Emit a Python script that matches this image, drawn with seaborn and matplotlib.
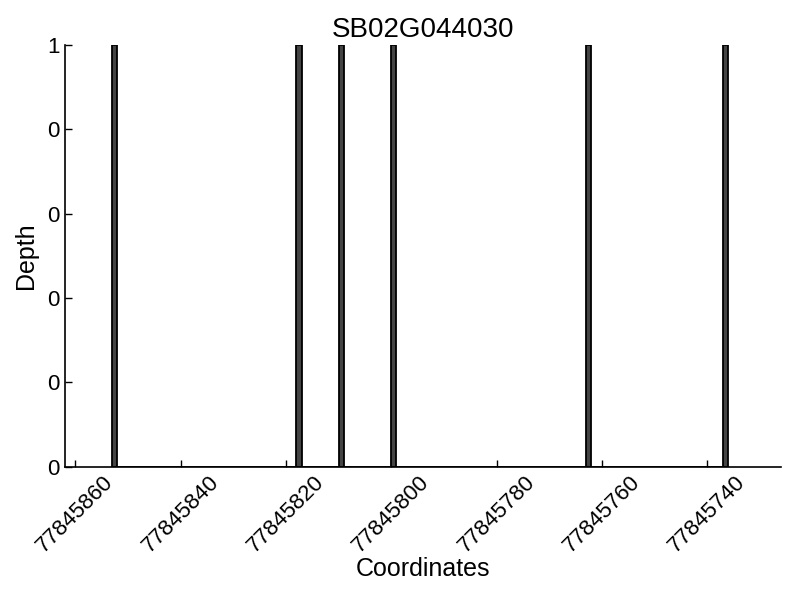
import numpy as np
import pandas as pd
import matplotlib
matplotlib.use("Agg")
import matplotlib.pyplot as plt
import seaborn as sns
from matplotlib.ticker import FormatStrFormatter

# coverage data for the gene
gene = "SB02G044030"
positions = [77845852, 77845817, 77845809, 77845799, 77845762, 77845736]
depth = [1, 1, 1, 1, 1, 1]
x_start = 77845862
x_end = 77845726

df = pd.DataFrame({"pos": positions, "depth": depth})

sns.set_style("ticks", {"xtick.direction": "in", "ytick.direction": "in",
                        "text.color": "black", "axes.labelcolor": "black",
                        "xtick.color": "black", "ytick.color": "black"})
plt.rcParams["font.family"] = ["Liberation Sans", "DejaVu Sans"]

fig, ax = plt.subplots(figsize=(8, 6), dpi=100)
sns.histplot(data=df, x="pos", weights="depth", binwidth=1,
             binrange=(df["pos"].min(), df["pos"].max() + 1), ax=ax,
             color="#444444", edgecolor="black", linewidth=1.3, alpha=1)

ax.set_xlim(x_start, x_end)
ax.set_ylim(0, 1)
ax.set_yticks(np.arange(0, 1.01, 0.2))
ax.yaxis.set_major_formatter(FormatStrFormatter("%d"))
ax.set_xticks(np.arange(77845860, 77845739, -20))
ax.xaxis.set_major_formatter(FormatStrFormatter("%d"))
plt.xticks(rotation=45)
ax.tick_params(labelsize=16, length=5, width=1, colors="black")

ax.set_title(gene, fontsize=20, color="black")
ax.set_xlabel("Coordinates", fontsize=18, color="black", labelpad=0)
ax.set_ylabel("Depth", fontsize=18, color="black", labelpad=7)
for s in ax.spines.values():
    s.set_color("black")
    s.set_linewidth(1.2)
sns.despine(ax=ax)

plt.subplots_adjust(left=0.081, right=0.976, top=0.925, bottom=0.222)
plt.savefig("out.png", dpi=100)
